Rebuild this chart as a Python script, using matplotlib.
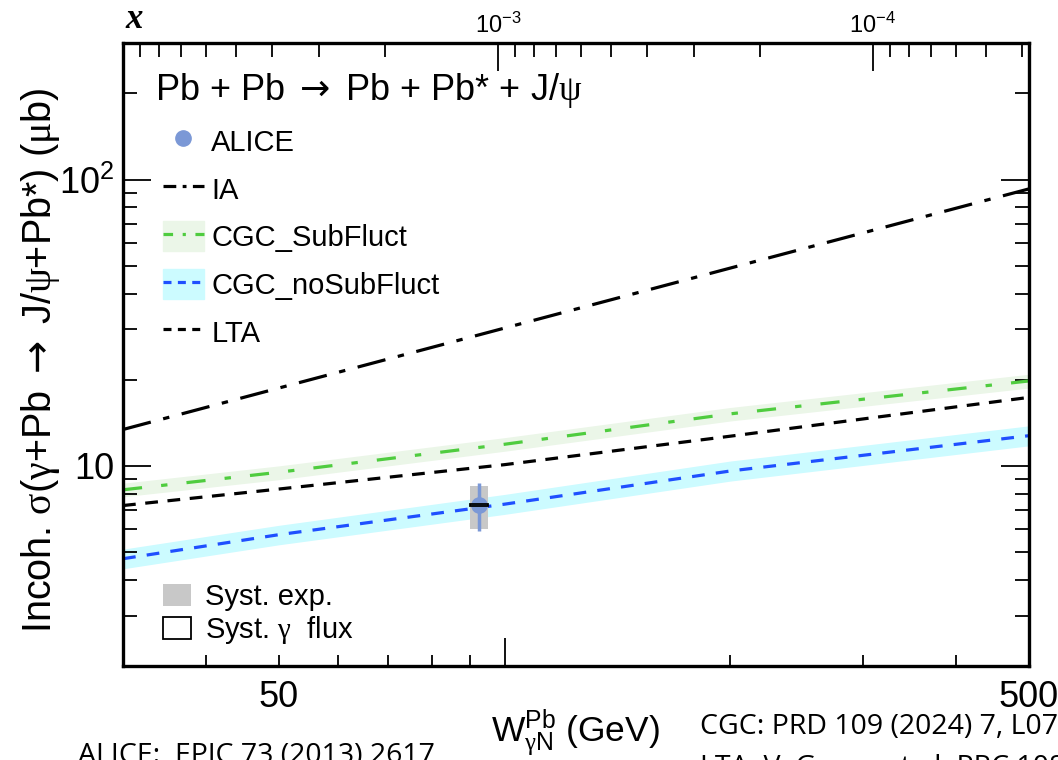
import numpy as np
import matplotlib
matplotlib.use("Agg")
import matplotlib.pyplot as plt
from matplotlib.lines import Line2D
from matplotlib.patches import Patch, Rectangle
from matplotlib.ticker import FixedLocator, FuncFormatter, LogLocator, NullFormatter

plt.rcParams['font.family'] = ['Liberation Sans', 'DejaVu Sans']
plt.rcParams['mathtext.fontset'] = 'custom'
plt.rcParams['mathtext.rm'] = 'Liberation Serif'
plt.rcParams['mathtext.it'] = 'Liberation Serif:italic'
plt.rcParams['mathtext.bf'] = 'Liberation Serif:bold'
plt.rcParams['mathtext.sf'] = 'DejaVu Sans'

# ---- data ----
M_JPSI = 3.097  # GeV, for the top x axis

W = [31, 50, 100, 200, 500]                 # W_gammaN (GeV)
ia = [13.4, 18.7, 30.3, 49.1, 92.8]
cgc_sub = [8.25, 9.5, 11.9, 15.2, 19.8]
cgc_sub_lo = [7.8, 8.95, 11.25, 14.35, 18.7]
cgc_sub_hi = [8.7, 10.0, 12.55, 16.0, 20.9]
cgc_nosub = [4.74, 5.75, 7.35, 9.6, 12.75]
cgc_nosub_lo = [4.37, 5.3, 6.77, 8.85, 11.75]
cgc_nosub_hi = [5.12, 6.2, 7.95, 10.4, 13.8]
lta = [7.27, 8.3, 10.1, 12.7, 17.35]

# ALICE point
alice_W = 92.5
alice_sig = 7.31
alice_stat = (1.41, 1.39)        # down, up
alice_syst = (1.29, 1.23)        # down, up
alice_Wbox = (89.8, 95.0)        # width of the syst box
alice_flux = 0.04

# ---- colours ----
c_alice = '#7b98d6'
c_green = '#4fcc3f'
c_green_band = '#ebf6e8'
c_blue = '#1f4fff'
c_blue_band = '#ccfbff'

fig = plt.figure(figsize=(10.58, 7.6), dpi=100)
ax = fig.add_axes([123/1058, 94/760, 906/1058, 623/760])

ax.fill_between(W, cgc_sub_lo, cgc_sub_hi, color=c_green_band, lw=0, zorder=1)
ax.fill_between(W, cgc_nosub_lo, cgc_nosub_hi, color=c_blue_band, lw=0, zorder=1)

ax.plot(W, ia, color='k', lw=2.3, dashes=(9, 4, 2, 4), zorder=2)
ax.plot(W, cgc_sub, color=c_green, lw=2.3, dashes=(6, 6, 2, 6), zorder=2)
ax.plot(W, lta, color='k', lw=2.3, dashes=(4, 3), zorder=2)
ax.plot(W, cgc_nosub, color=c_blue, lw=2.3, dashes=(4, 3.5), zorder=2)

# ALICE with systematics
ax.add_patch(Rectangle((alice_Wbox[0], alice_sig - alice_syst[0]),
                       alice_Wbox[1] - alice_Wbox[0], alice_syst[0] + alice_syst[1],
                       facecolor='#c8c8c8', edgecolor='none', zorder=3))
ax.errorbar([alice_W], [alice_sig], yerr=[[alice_stat[0]], [alice_stat[1]]],
            fmt='o', color=c_alice, ms=11, elinewidth=2.5, capsize=0, zorder=4)
ax.add_patch(Rectangle((alice_Wbox[0], alice_sig - alice_flux),
                       alice_Wbox[1] - alice_Wbox[0], 2 * alice_flux,
                       fill=False, edgecolor='k', lw=1.3, zorder=5))

ax.set_xscale('log')
ax.set_yscale('log')
ax.set_xlim(31, 500)
ax.set_ylim(2.0, 300)

# ---- ticks ----
ax.xaxis.set_major_locator(FixedLocator([100]))
ax.xaxis.set_major_formatter(NullFormatter())
ax.xaxis.set_minor_locator(LogLocator(base=10, subs=np.arange(2, 10)))
ax.xaxis.set_minor_formatter(FuncFormatter(lambda v, p: f'{v:.0f}' if round(v) in (50, 500) else ''))
ax.yaxis.set_major_locator(FixedLocator([10, 100]))
ax.yaxis.set_major_formatter(FuncFormatter(lambda v, p: '10' if round(v) == 10 else r'$\mathregular{10^{2}}$'))
ax.yaxis.set_minor_locator(LogLocator(base=10, subs=np.arange(2, 10)))
ax.yaxis.set_minor_formatter(NullFormatter())

ax.tick_params(axis='both', which='both', direction='in', right=True, top=False)
ax.tick_params(axis='x', which='major', length=20, width=1.3)
ax.tick_params(axis='x', which='minor', length=8, width=1.3, labelsize=26, pad=10)
ax.tick_params(axis='y', which='major', length=20, width=1.3, labelsize=26, pad=6)
ax.tick_params(axis='y', which='minor', length=10, width=1.3)
for s in ax.spines.values():
    s.set_linewidth(2.4)

# ---- top axis: Bjorken x ----
axt = ax.twiny()
axt.set_xscale('log')
axt.set_xlim(M_JPSI**2 / 31**2, M_JPSI**2 / 500**2)
axt.xaxis.set_major_locator(FixedLocator([1e-3, 1e-4]))
axt.xaxis.set_minor_locator(LogLocator(base=10, subs=np.arange(2, 10)))
axt.xaxis.set_minor_formatter(NullFormatter())
axt.tick_params(axis='x', which='both', direction='in', width=1.3)
axt.tick_params(axis='x', which='major', length=20, labelsize=17, pad=4)
axt.tick_params(axis='x', which='minor', length=10)
for s in axt.spines.values():
    s.set_visible(False)
fig.text(125/1058, 1 - 20/760, 'x', fontsize=25, family='Liberation Serif',
         style='italic', weight='bold', ha='left', va='center')

ax.set_ylabel(r'Incoh. $\mathrm{\sigma}$($\mathrm{\gamma}$+Pb $\mathsf{\rightarrow}$ J/$\mathrm{\psi}$+Pb*) ($\mathrm{\mu}$b)',
              fontsize=28.5)
ax.yaxis.set_label_coords(-61/906, 0.49)
ax.text(0.499, -0.108, r'$\mathregular{W}^{\mathregular{Pb}}_{\mathrm{\gamma}\mathregular{N}}$ (GeV)',
        transform=ax.transAxes, fontsize=25.5, ha='center', va='center')

# ---- legends ----
ax.text(32/906, 1 - 47/623, r'Pb + Pb $\mathsf{\rightarrow}$ Pb + Pb* + J/$\mathrm{\psi}$',
        transform=ax.transAxes, fontsize=26, ha='left', va='center')
handles = [
    Line2D([], [], ls='none', marker='o', color=c_alice, ms=11),
    Line2D([], [], color='k', lw=2.3, dashes=(4, 2, 1.2, 2)),
    (Patch(color=c_green_band), Line2D([], [], color=c_green, lw=2.3, dashes=(3, 3, 1, 3))),
    (Patch(color=c_blue_band), Line2D([], [], color=c_blue, lw=2.3, dashes=(2.5, 2))),
    Line2D([], [], color='k', lw=2.3, dashes=(2.5, 2)),
]
labels = ['ALICE', 'IA', 'CGC_SubFluct', 'CGC_noSubFluct', 'LTA']
leg = ax.legend(handles, labels, loc='upper left', bbox_to_anchor=(40/906, 1 - 83/623),
                frameon=False, fontsize=21, handlelength=1.4, handleheight=1.2,
                handletextpad=0.25, labelspacing=0.58, borderaxespad=0, borderpad=0)
ax.add_artist(leg)

handles2 = [Patch(facecolor='#c8c8c8', edgecolor='none'),
            Patch(facecolor='white', edgecolor='k', lw=1.3)]
ax.legend(handles2, ['Syst. exp.', r'Syst. $\mathrm{\gamma}$  flux'], loc='upper left',
          bbox_to_anchor=(40/906, 1 - 540/623), frameon=False, fontsize=21,
          handlelength=0.95, handleheight=0.8, handletextpad=0.5,
          labelspacing=0.1, borderaxespad=0, borderpad=0)

# ---- references under the plot (cut by the figure edge) ----
fig.text(78/1058, 1 - 755/760, 'ALICE:  EPJC 73 (2013) 2617', fontsize=20.5,
         family='Open Sans', ha='left', va='center')
fig.text(700/1058, 1 - 727/760, 'CGC: PRD 109 (2024) 7, L071504', fontsize=20.5,
         family='Open Sans', ha='left', va='center')
fig.text(700/1058, 1 - 768/760, 'LTA: V. Guzey et al. PRC 108 (2023)', fontsize=20.5,
         family='Open Sans', ha='left', va='center')

fig.savefig('out.png', dpi=100)
